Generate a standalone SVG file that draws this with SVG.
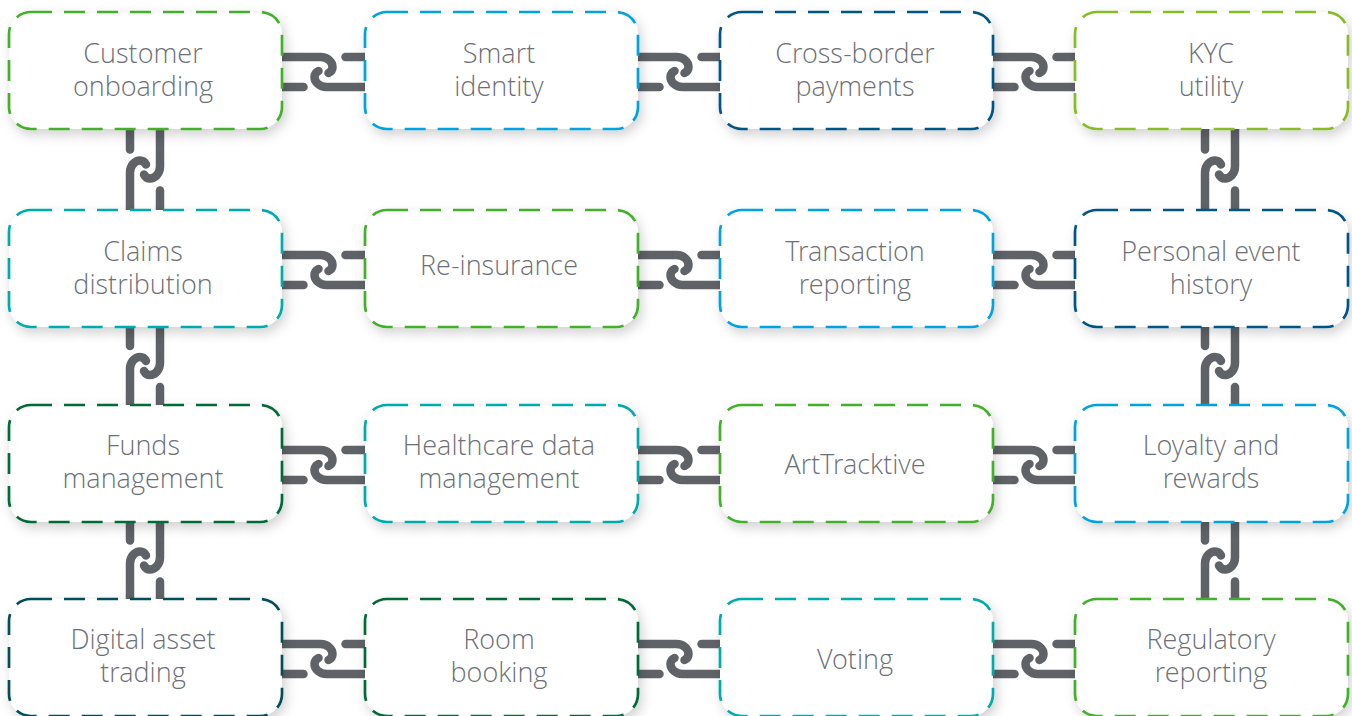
<svg xmlns="http://www.w3.org/2000/svg" width="1352" height="716" viewBox="0 0 1352 716">
<style>
.box{fill:#fff;stroke-width:2.7;stroke-dasharray:21 12;filter:url(#sh)}
.lnk{fill:none;stroke:#5f6267;stroke-width:8.5;stroke-linecap:round}
text{font-family:"Open Sans Light","Open Sans","Liberation Sans",sans-serif;font-weight:300;font-size:27px;fill:#6d7075;text-anchor:middle}
.g{stroke:#43B02A}.lb{stroke:#00A3E0}.db{stroke:#005587}.lg{stroke:#86BC25}.t{stroke:#00ABAB}.dg{stroke:#046A38}.dt{stroke:#004F59}
</style>
<defs>
<filter id="sh" x="-10%" y="-15%" width="125%" height="140%">
<feDropShadow dx="3" dy="5" stdDeviation="6" flood-color="#000" flood-opacity="0.18"/>
</filter>
<g id="hc" class="lnk">
<path d="M-4,0 H38.5 C45.5,0 50.5,5 50.5,10 C50.5,13 48.5,15 46.5,16"/>
<path d="M87,30 H44.5 C37.5,30 32.5,25 32.5,20 C32.5,17 34.5,15 36.5,14"/>
<path d="M-4,30 H21.5"/>
<path d="M87,0 H63.5"/>
</g>
<g id="vc" class="lnk">
<path d="M30,-4 V37.5 C30,44.5 25,49.5 20,49.5 C17,49.5 15,47.5 14,45.5"/>
<path d="M0,85 V43.5 C0,36.5 5,31.5 10,31.5 C13,31.5 15,33.5 16,35.5"/>
<path d="M0,-4 V20.5"/>
<path d="M30,85 V61.5"/>
</g>
</defs>
<rect width="1352" height="716" fill="#fff"/>
<g id="connectors">
<use href="#hc" transform="translate(282,57)"/>
<use href="#hc" transform="translate(638,57)"/>
<use href="#hc" transform="translate(993,57)"/>
<use href="#hc" transform="translate(282,255)"/>
<use href="#hc" transform="translate(638,255)"/>
<use href="#hc" transform="translate(993,255)"/>
<use href="#hc" transform="translate(282,450)"/>
<use href="#hc" transform="translate(638,450)"/>
<use href="#hc" transform="translate(993,450)"/>
<use href="#hc" transform="translate(282,644)"/>
<use href="#hc" transform="translate(638,644)"/>
<use href="#hc" transform="translate(993,644)"/>
<use href="#vc" transform="translate(130,129)"/>
<use href="#vc" transform="translate(130,325.5)"/>
<use href="#vc" transform="translate(130,520)"/>
<use href="#vc" transform="translate(1205,129)"/>
<use href="#vc" transform="translate(1205,325.5)"/>
<use href="#vc" transform="translate(1205,520)"/>
</g>
<g id="n-customer-onboarding"><rect class="box g" x="9" y="12" width="273" height="117" rx="22"/><text x="143" y="63">Customer<tspan x="143" dy="33">onboarding</tspan></text></g>
<g id="n-smart-identity"><rect class="box lb" x="365" y="12" width="273" height="117" rx="22"/><text x="499" y="63">Smart<tspan x="499" dy="33">identity</tspan></text></g>
<g id="n-cross-border"><rect class="box db" x="720" y="12" width="273" height="117" rx="22"/><text x="855" y="63">Cross-border<tspan x="855" dy="33">payments</tspan></text></g>
<g id="n-kyc"><rect class="box lg" x="1075" y="12" width="273" height="117" rx="22"/><text x="1211" y="63">KYC<tspan x="1211" dy="33">utility</tspan></text></g>

<g id="n-claims"><rect class="box t" x="9" y="210" width="273" height="117" rx="22"/><text x="143" y="261">Claims<tspan x="143" dy="33">distribution</tspan></text></g>
<g id="n-reinsurance"><rect class="box g" x="365" y="210" width="273" height="117" rx="22"/><text x="499" y="275">Re-insurance</text></g>
<g id="n-transaction"><rect class="box lb" x="720" y="210" width="273" height="117" rx="22"/><text x="855" y="261">Transaction<tspan x="855" dy="33">reporting</tspan></text></g>
<g id="n-personal"><rect class="box db" x="1075" y="210" width="273" height="117" rx="22"/><text x="1211" y="261">Personal event<tspan x="1211" dy="33">history</tspan></text></g>

<g id="n-funds"><rect class="box dg" x="9" y="405" width="273" height="117" rx="22"/><text x="143" y="455">Funds<tspan x="143" dy="33">management</tspan></text></g>
<g id="n-healthcare"><rect class="box t" x="365" y="405" width="273" height="117" rx="22"/><text x="499" y="455">Healthcare data<tspan x="499" dy="33">management</tspan></text></g>
<g id="n-arttracktive"><rect class="box g" x="720" y="405" width="273" height="117" rx="22"/><text x="855" y="474">ArtTracktive</text></g>
<g id="n-loyalty"><rect class="box lb" x="1075" y="405" width="273" height="117" rx="22"/><text x="1211" y="455">Loyalty and<tspan x="1211" dy="33">rewards</tspan></text></g>

<g id="n-digital"><rect class="box dt" x="9" y="599" width="273" height="117" rx="22"/><text x="143" y="649">Digital asset<tspan x="143" dy="33">trading</tspan></text></g>
<g id="n-room"><rect class="box dg" x="365" y="599" width="273" height="117" rx="22"/><text x="499" y="649">Room<tspan x="499" dy="33">booking</tspan></text></g>
<g id="n-voting"><rect class="box t" x="720" y="599" width="273" height="117" rx="22"/><text x="855" y="669">Voting</text></g>
<g id="n-regulatory"><rect class="box g" x="1075" y="599" width="273" height="117" rx="22"/><text x="1211" y="649">Regulatory<tspan x="1211" dy="33">reporting</tspan></text></g>
</svg>
